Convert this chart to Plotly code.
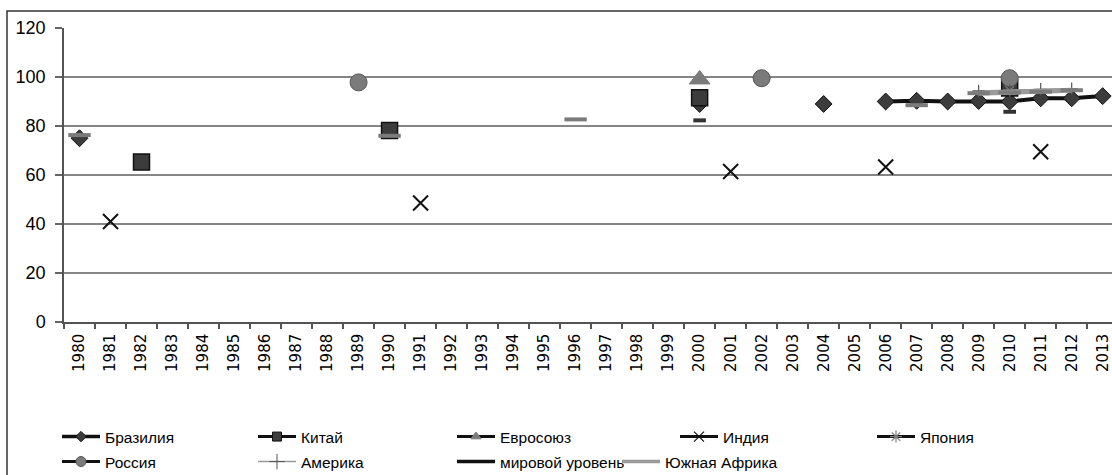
import plotly.graph_objects as go

years = list(range(1980, 2014))
year_labels = [str(y) for y in years]

brazil_years = [1980, 2000, 2004, 2006, 2007, 2008, 2009, 2010, 2011, 2012, 2013]
brazil_vals = [75, 89, 89, 90, 90.3, 90, 90.2, 90, 91.3, 91.3, 92.2]
china_years = [1982, 1990, 2000, 2010]
china_vals = [65.3, 78.2, 91.5, 95.5]
eu_years = [2000]
eu_vals = [99]
india_years = [1981, 1991, 2001, 2006, 2011]
india_vals = [41, 48.6, 61.4, 63.3, 69.5]
japan_years = [2010]
japan_vals = [94.5]
russia_years = [1989, 2002, 2010]
russia_vals = [97.8, 99.5, 99.5]
america_years = [2009, 2010, 2011, 2012]
america_vals = [94.3, 94.5, 95.0, 95.2]
world_years = [2000, 2010]
world_vals = [82.3, 85.8]
safrica_years = [1980, 1990, 1996, 2007, 2009, 2010, 2011, 2012]
safrica_vals = [76.3, 76, 82.7, 88.5, 93.4, 93.7, 94.0, 94.6]

names = ["Бразилия", "Китай", "Евросоюз", "Индия", "Япония",
         "Россия", "Америка", "мировой уровень", "Южная Африка"]


def full(ys, vs):
    d = dict(zip(ys, vs))
    return [d.get(y) for y in years]


DARK = "#3c3c3c"
GREY = "#7b7b7b"
LGREY = "#9a9a9a"

series = [
    dict(name=names[0], data=full(brazil_years, brazil_vals),
         line=dict(color="#111", width=4),
         marker=dict(symbol="diamond", size=13, color=DARK, line=dict(color="#111", width=1)),
         lmarker=dict(symbol="diamond", size=8, color=DARK, line=dict(color="#111", width=1))),
    dict(name=names[1], data=full(china_years, china_vals),
         line=dict(color="#111", width=3),
         marker=dict(symbol="square", size=16, color=DARK, line=dict(color="#111", width=1.5)),
         lmarker=dict(symbol="square", size=9, color=DARK, line=dict(color="#111", width=1))),
    dict(name=names[2], data=full(eu_years, eu_vals),
         line=dict(color="#111", width=3),
         marker=dict(symbol="triangle-up", size=18, color=GREY, line=dict(color=GREY, width=1)),
         lmarker=dict(symbol="triangle-up", size=9, color=GREY, line=dict(color=GREY, width=1))),
    dict(name=names[3], data=full(india_years, india_vals),
         line=dict(color="#111", width=3),
         marker=dict(symbol="x-thin", size=15, color="#111", line=dict(color="#111", width=2)),
         lmarker=dict(symbol="x-thin", size=10, color="#111", line=dict(color="#111", width=1.2))),
    dict(name=names[4], data=full(japan_years, japan_vals),
         line=dict(color="#111", width=3),
         marker=dict(symbol="asterisk", size=10, color=GREY, line=dict(color=GREY, width=1.2)),
         lmarker=dict(symbol="asterisk", size=10, color=GREY, line=dict(color=GREY, width=1.2))),
    dict(name=names[5], data=full(russia_years, russia_vals),
         line=dict(color="#111", width=3),
         marker=dict(symbol="circle", size=17, color=GREY, line=dict(color="#555", width=1)),
         lmarker=dict(symbol="circle", size=10, color=GREY, line=dict(color="#555", width=1))),
    dict(name=names[6], data=full(america_years, america_vals),
         line=dict(color=LGREY, width=1.5),
         marker=dict(symbol="cross-thin", size=9, color="#555", line=dict(color="#555", width=1.2)),
         lmarker=dict(symbol="cross-thin", size=11, color="#555", line=dict(color="#555", width=1))),
    dict(name=names[7], data=full(world_years, world_vals),
         line=dict(color="#111", width=3.5),
         marker=dict(symbol="line-ew", size=9, color="#333", line=dict(color="#333", width=4)),
         lmarker=None),
    dict(name=names[8], data=full(safrica_years, safrica_vals),
         line=dict(color=LGREY, width=5),
         marker=dict(symbol="line-ew", size=16, color=GREY, line=dict(color=GREY, width=4)),
         lmarker=None),
]

fig = go.Figure()
for s in series:
    fig.add_trace(go.Scatter(x=year_labels, y=s["data"], mode="lines+markers",
                             line=s["line"], marker=s["marker"], connectgaps=False,
                             showlegend=False, hoverinfo="skip", name=s["name"]))

# legend positions (pixel) -> paper
L, R, T, B = 64, 0, 28, 153
W = 1112 - L - R
H = 475 - T - B
leg_pos = [(57, 437), (253, 437), (452, 437), (675, 437), (872, 437),
           (57, 462), (253, 462), (452, 462), (617, 462)]

layout_legends = {}
for i, s in enumerate(series):
    key = "legend" if i == 0 else f"legend{i+1}"
    lm = s["lmarker"]
    mode = "lines+markers" if lm else "lines"
    lw = s["line"]["width"]
    fig.add_trace(go.Scatter(x=[None], y=[None], mode=mode, name=s["name"],
                             line=dict(color=s["line"]["color"], width=min(lw, 3.5)),
                             marker=lm if lm else None,
                             showlegend=True, legend=key, hoverinfo="skip"))
    px, py = leg_pos[i]
    layout_legends[key] = dict(x=(px - L) / W, y=(T + H - py) / H, xanchor="left", yanchor="middle",
                               orientation="h", bgcolor="rgba(0,0,0,0)", borderwidth=0,
                               itemwidth=38,
                               font=dict(family="Liberation Sans Narrow, Liberation Sans", size=15.5,
                                         color="#000", weight=500))

fig.update_layout(
    width=1112, height=475,
    margin=dict(l=L, r=R, t=T, b=B, autoexpand=False),
    paper_bgcolor="white", plot_bgcolor="white",
    xaxis=dict(type="category", categoryorder="array", categoryarray=year_labels,
               range=[-0.5, 33.3], tickangle=-90, tickson="boundaries",
               ticks="outside", ticklen=5, tickcolor="#555", tickwidth=1.5,
               showline=True, linecolor="#555", linewidth=1.5, showgrid=False,
               ticklabelstandoff=4,
               tickfont=dict(family="DejaVu Sans", size=15, color="#000"),
               automargin=False),
    yaxis=dict(range=[0, 120], tickvals=[0, 20, 40, 60, 80, 100, 120],
               ticks="outside", ticklen=7, tickcolor="#666", tickwidth=1.5,
               showline=True, linecolor="#555", linewidth=1.5,
               showgrid=True, gridcolor="#858585", gridwidth=1.5, zeroline=False,
               ticklabelstandoff=6,
               tickfont=dict(family="Liberation Sans", size=18, color="#000"),
               automargin=False),
    shapes=[dict(type="rect", xref="paper", yref="paper",
                 x0=(7 - L) / W, x1=1.2, y0=-1.0, y1=(T + H - 11) / H,
                 line=dict(color="#333", width=1.5), fillcolor="rgba(0,0,0,0)", layer="below")],
    **layout_legends,
)

fig.write_html("out.html", config={"displayModeBar": False},
               post_script="document.body.style.margin='0';document.body.style.overflow='hidden';")
